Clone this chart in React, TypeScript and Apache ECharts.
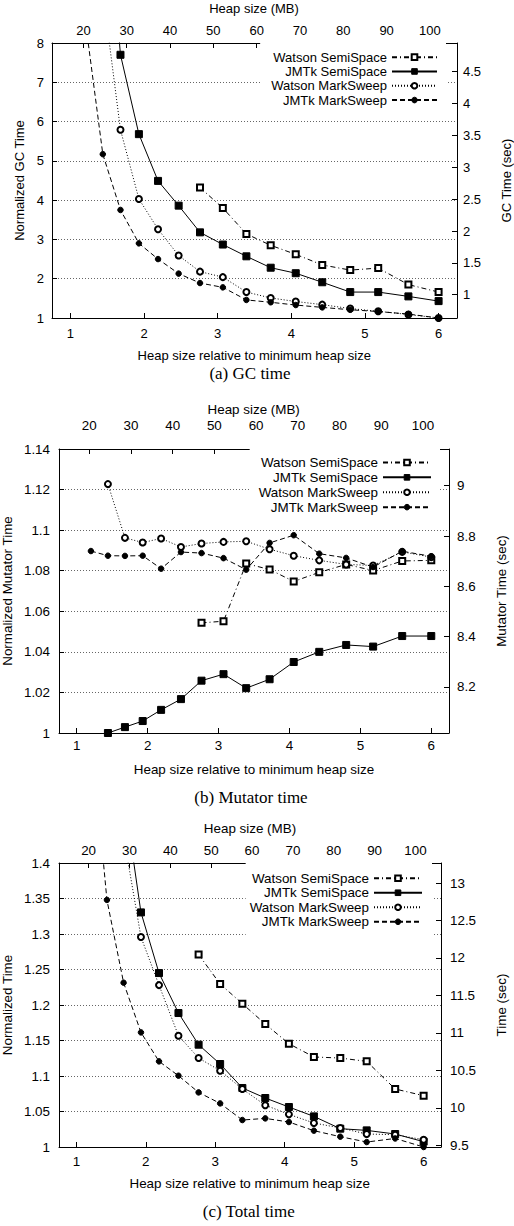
import React, { useEffect, useRef } from "react";
import * as echarts from "echarts";

// ---------- data ----------
const heapRel = [1.2, 1.44, 1.68, 1.93, 2.19, 2.47, 2.76, 3.07, 3.39, 3.72, 4.06, 4.42, 4.8, 5.18, 5.59, 6.0];
const seriesNames = ["Watson SemiSpace", "JMTk SemiSpace", "Watson MarkSweep", "JMTk MarkSweep"];

const mbTicks = [20, 30, 40, 50, 60, 70, 80, 90, 100];
const relTicks = [1, 2, 3, 4, 5, 6];
const gcSecTicks = [1, 1.5, 2, 2.5, 3, 3.5, 4, 4.5];
const mutSecTicks = [8.2, 8.4, 8.6, 8.8, 9];
const totSecTicks = [9.5, 10, 10.5, 11, 11.5, 12, 12.5, 13];

// (a) GC time (normalized)
const gcWatsonSS = [null, null, null, null, null, null, 4.32, 3.8, 3.14, 2.85, 2.62, 2.35, 2.22, 2.27, 1.85, 1.66];
const gcJmtkSS = [null, 13.1, 7.7, 5.68, 4.49, 3.86, 3.18, 2.87, 2.57, 2.28, 2.14, 1.91, 1.66, 1.66, 1.55, 1.43];
const gcWatsonMS = [null, 9.3, 5.79, 4.03, 3.26, 2.59, 2.18, 2.04, 1.66, 1.51, 1.42, 1.34, 1.24, 1.17, 1.09, 1.0];
const gcJmtkMS = [8.6, 5.17, 3.75, 2.9, 2.5, 2.13, 1.89, 1.78, 1.46, 1.4, 1.33, 1.27, 1.21, 1.165, 1.1, 1.0];

// (b) Mutator time (normalized)
const mutWatsonSS = [null, null, null, null, null, null, 1.0543, 1.0551, 1.0835, 1.0806, 1.0747, 1.0792, 1.0831, 1.0801, 1.0848, 1.0851];
const mutJmtkSS = [null, 1.0, 1.0029, 1.0059, 1.0114, 1.0167, 1.0258, 1.029, 1.0221, 1.0265, 1.035, 1.04, 1.0434, 1.0426, 1.0478, 1.0478];
const mutWatsonMS = [null, 1.1227, 1.0962, 1.0939, 1.0959, 1.0917, 1.0934, 1.0942, 1.0945, 1.0906, 1.0874, 1.0851, 1.0831, 1.0826, 1.0893, 1.0867];
const mutJmtkMS = [1.0897, 1.0874, 1.0873, 1.0874, 1.081, 1.0892, 1.0887, 1.0862, 1.0805, 1.0937, 1.0975, 1.0884, 1.0863, 1.0818, 1.0896, 1.0871];

// (c) Total time (normalized)
const totWatsonSS = [null, null, null, null, null, null, 1.271, 1.2296, 1.2018, 1.1732, 1.1455, 1.1268, 1.1253, 1.1206, 1.0817, 1.0723];
const totJmtkSS = [null, 1.9, 1.5, 1.3304, 1.245, 1.1887, 1.1441, 1.1169, 1.0831, 1.069, 1.0563, 1.0431, 1.0258, 1.0234, 1.0183, 1.0075];
const totWatsonMS = [null, 1.75, 1.438, 1.2958, 1.228, 1.1568, 1.1253, 1.1075, 1.0817, 1.0589, 1.046, 1.0338, 1.0268, 1.0183, 1.0173, 1.0103];
const totJmtkMS = [1.6, 1.348, 1.2314, 1.1614, 1.1206, 1.1004, 1.0769, 1.0614, 1.038, 1.0403, 1.0352, 1.023, 1.0145, 1.007, 1.012, 1.0];

// ---------- layout / styles ----------
const FONT = '"Liberation Sans", Arial, Helvetica, sans-serif';
const SERIF = '"Liberation Serif", "Times New Roman", serif';
const REL_MIN = 0.75;
const REL_MAX = 6.25;
const MB_PER_REL = 17;

const seriesStyles = [
  { symbol: "emptyRect", symbolSize: 6, dash: [5, 3, 1, 3] as any, dot: true },
  { symbol: "rect", symbolSize: 7, dash: "solid" as any, dot: false },
  { symbol: "emptyCircle", symbolSize: 6, dash: [1, 2] as any, dot: true },
  { symbol: "circle", symbolSize: 5.5, dash: [5, 3] as any, dot: false },
];

const panels = [
  {
    grid: { left: 52, top: 43, width: 405, height: 275 },
    y: { min: 1, max: 8, interval: 1 },
    sec: { min: 0.635, max: 4.95, ticks: gcSecTicks },
    values: [gcWatsonSS, gcJmtkSS, gcWatsonMS, gcJmtkMS],
    fontSize: 13,
    margins: { left: 8, right: 6, bottom: 8.5, top: 6.5 },
    legend: { right: 68, top: 43, padding: [7, 8, 7, 11], itemWidth: 45, lineHeight: 14.3 },
    pos: { top: [254, 8.3], bottom: [254.3, 355], left: [19, 180.5], right: [506.5, 180.5], caption: [250, 373] },
    leftName: "Normalized GC Time",
    rightName: "GC Time (sec)",
    caption: "(a) GC time",
  },
  {
    grid: { left: 59, top: 449, width: 390, height: 284 },
    y: { min: 1, max: 1.14, interval: 0.02 },
    sec: { min: 8.017, max: 9.146, ticks: mutSecTicks },
    values: [mutWatsonSS, mutJmtkSS, mutWatsonMS, mutJmtkMS],
    fontSize: 13.4,
    margins: { left: 9, right: 8, bottom: 6, top: 17.5 },
    legend: { right: 74, top: 449, padding: [6, 8, 6, 9], itemWidth: 48, lineHeight: 14.9 },
    pos: { top: [253.7, 409.5], bottom: [254, 769.3], left: [7, 591], right: [501, 591], caption: [251, 797] },
    leftName: "Normalized Mutator Time",
    rightName: "Mutator Time (sec)",
    caption: "(b) Mutator time",
  },
  {
    grid: { left: 59, top: 863, width: 382, height: 284 },
    y: { min: 1, max: 1.4, interval: 0.05 },
    sec: { min: 9.479, max: 13.267, ticks: totSecTicks },
    values: [totWatsonSS, totJmtkSS, totWatsonMS, totJmtkMS],
    fontSize: 13.4,
    margins: { left: 9, right: 9, bottom: 7.5, top: 6.5 },
    legend: { right: 82, top: 863, padding: [8, 9, 6, 4], itemWidth: 48, lineHeight: 14.5 },
    pos: { top: [250, 828.3], bottom: [249.7, 1183.3], left: [7, 1005], right: [501, 1005], caption: [248.7, 1211.7] },
    leftName: "Normalized Time",
    rightName: "Time (sec)",
    caption: "(c) Total time",
  },
];

const toPoints = (vals: (number | null)[]) =>
  heapRel
    .map((x, i) => (vals[i] == null ? null : [x, vals[i]]))
    .filter((p) => p !== null);

const axisLine = { show: true, onZero: false, lineStyle: { color: "#000", width: 1 } };

function buildOption() {
  const grid = panels.map((p) => ({ ...p.grid, containLabel: false }));
  const xAxis: any[] = [];
  const yAxis: any[] = [];
  const series: any[] = [];
  const legend: any[] = [];
  const graphic: any[] = [];

  const txt = (x: number, y: number, text: string, size: number, family: string, rot = 0) => ({
    type: "text",
    x,
    y,
    rotation: rot,
    silent: true,
    style: { text, fill: "#000", fontSize: size, fontFamily: family, align: "center", verticalAlign: "middle" },
  });

  panels.forEach((p, i) => {
    const lbl = { color: "#000", fontSize: p.fontSize, fontFamily: FONT };
    xAxis.push({
      type: "value",
      gridIndex: i,
      position: "bottom",
      min: REL_MIN,
      max: REL_MAX,
      axisLine,
      axisTick: { show: true, inside: true, length: 5, customValues: relTicks, lineStyle: { color: "#000" } },
      axisLabel: { ...lbl, margin: p.margins.bottom, customValues: relTicks },
      splitLine: { show: false },
    });
    xAxis.push({
      type: "value",
      gridIndex: i,
      position: "top",
      min: REL_MIN * MB_PER_REL,
      max: REL_MAX * MB_PER_REL,
      axisLine,
      axisTick: { show: true, inside: true, length: 5, customValues: mbTicks, lineStyle: { color: "#000" } },
      axisLabel: { ...lbl, margin: p.margins.top, customValues: mbTicks },
      splitLine: { show: false },
    });
    yAxis.push({
      type: "value",
      gridIndex: i,
      position: "left",
      min: p.y.min,
      max: p.y.max,
      interval: p.y.interval,
      axisLine,
      axisTick: { show: true, inside: true, length: 5, lineStyle: { color: "#000" } },
      axisLabel: { ...lbl, margin: p.margins.left },
      splitLine: { show: true, lineStyle: { color: "#666", width: 1, type: [1, 2] } },
    });
    yAxis.push({
      type: "value",
      gridIndex: i,
      position: "right",
      min: p.sec.min,
      max: p.sec.max,
      axisLine,
      axisTick: { show: true, inside: true, length: 5, customValues: p.sec.ticks, lineStyle: { color: "#000" } },
      axisLabel: { ...lbl, margin: p.margins.right, customValues: p.sec.ticks },
      splitLine: { show: false },
    });

    p.values.forEach((vals, k) => {
      const st = seriesStyles[k];
      const data = toPoints(vals as (number | null)[]);
      series.push({
        type: "line",
        name: seriesNames[k],
        xAxisIndex: 2 * i,
        yAxisIndex: 2 * i,
        data,
        symbol: st.symbol,
        symbolSize: st.symbolSize,
        showAllSymbol: true,
        clip: true,
        lineStyle: { color: "#000", width: 1, type: st.dash },
        itemStyle: { color: "#000", borderColor: "#000", borderWidth: 1 },
        emphasis: { disabled: true },
      });
      if (st.dot) {
        series.push({
          type: "scatter",
          name: seriesNames[k] + " centre",
          xAxisIndex: 2 * i,
          yAxisIndex: 2 * i,
          data,
          symbol: "circle",
          symbolSize: 1.6,
          silent: true,
          clip: true,
          itemStyle: { color: "#000" },
        });
      }
    });

    legend.push({
      orient: "vertical",
      align: "right",
      right: p.legend.right,
      top: p.legend.top,
      padding: p.legend.padding,
      backgroundColor: "#fff",
      itemWidth: p.legend.itemWidth,
      itemHeight: 7,
      itemGap: 0,
      selectedMode: false,
      data: seriesNames,
      itemStyle: { borderWidth: 1 },
      textStyle: { color: "#000", fontSize: p.fontSize, fontFamily: FONT, lineHeight: p.legend.lineHeight },
    });

    graphic.push(txt(p.pos.top[0], p.pos.top[1], "Heap size (MB)", p.fontSize, FONT));
    graphic.push(txt(p.pos.bottom[0], p.pos.bottom[1], "Heap size relative to minimum heap size", p.fontSize, FONT));
    graphic.push(txt(p.pos.left[0], p.pos.left[1], p.leftName, p.fontSize, FONT, Math.PI / 2));
    graphic.push(txt(p.pos.right[0], p.pos.right[1], p.rightName, p.fontSize, FONT, Math.PI / 2));
    graphic.push(txt(p.pos.caption[0], p.pos.caption[1], p.caption, 17, SERIF));
  });

  return {
    animation: false,
    backgroundColor: "#fff",
    textStyle: { fontFamily: FONT, color: "#000" },
    grid,
    xAxis,
    yAxis,
    series,
    legend,
    graphic: { elements: graphic },
  };
}

export default function App() {
  const ref = useRef<HTMLDivElement>(null);
  useEffect(() => {
    if (!ref.current) return;
    const chart = echarts.init(ref.current, null, { renderer: "svg" });
    chart.setOption(buildOption() as any);
    return () => chart.dispose();
  }, []);
  return (
    <div
      ref={ref}
      style={{ position: "absolute", left: 0, top: 0, width: 514, height: 1226, background: "#fff" }}
    />
  );
}
